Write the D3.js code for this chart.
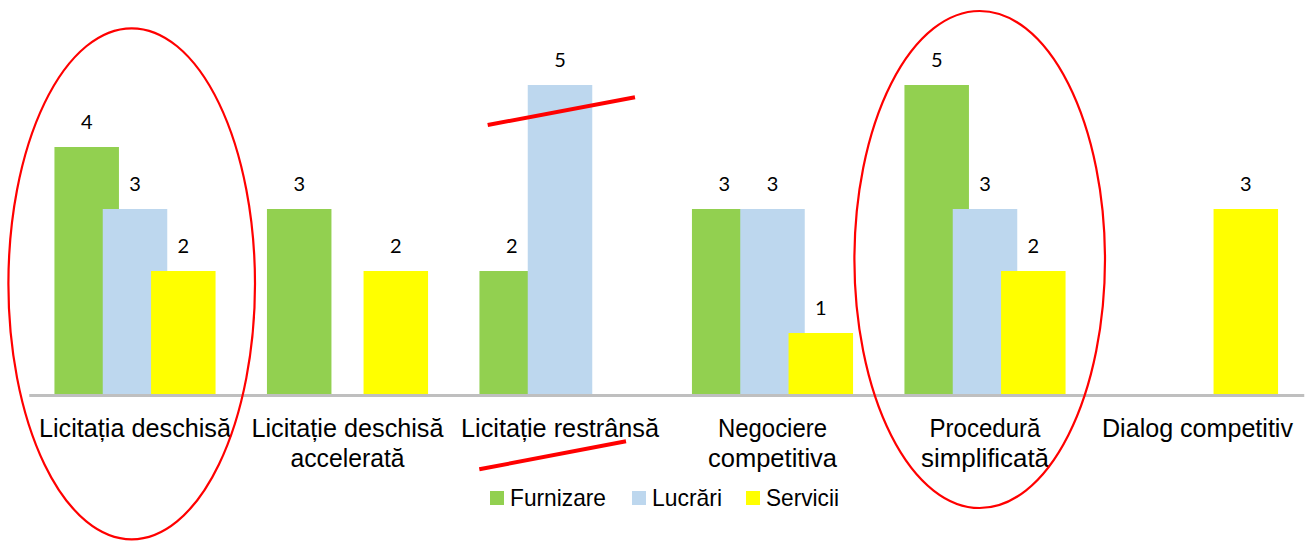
<!DOCTYPE html>
<html lang="ro">
  <head>
    <meta charset="UTF-8" />
    <title>Proceduri</title>
    <script src="https://cdn.jsdelivr.net/npm/d3@7"></script>
    <style>
      html,
      body {
        margin: 0;
        padding: 0;
        background: #fff;
      }
      svg {
        display: block;
      }
      .cat {
        font-family: 'Liberation Sans', Arial, sans-serif;
        font-size: 26px;
        fill: #000;
      }
      .val {
        font-family: Lato, 'Open Sans', sans-serif;
        font-size: 20px;
        fill: #000;
      }
      .leg {
        font-family: 'Liberation Sans', Arial, sans-serif;
        font-size: 24px;
        fill: #000;
      }
    </style>
  </head>
  <body>
    <svg width="1306" height="543"></svg>
    <script>
      // categories (label lines) and series values
      const categories = [
        'Licitația deschisă',
        'Licitație deschisă accelerată',
        'Licitație restrânsă',
        'Negociere competitiva',
        'Procedură simplificată',
        'Dialog competitiv',
      ];
      const categoryLines = [
        ['Licitația deschisă'],
        ['Licitație deschisă', 'accelerată'],
        ['Licitație restrânsă'],
        ['Negociere', 'competitiva'],
        ['Procedură', 'simplificată'],
        ['Dialog competitiv'],
      ];
      const seriesNames = ['Furnizare', 'Lucrări', 'Servicii'];
      const furnizare = [4, 3, 2, 3, 5, null];
      const lucrari = [3, null, 5, 3, 3, null];
      const servicii = [2, 2, null, 1, 2, 3];
      const colors = ['#92D050', '#BDD7EE', '#FFFF00'];

      const seriesValues = [furnizare, lucrari, servicii];

      const svg = d3.select('svg');
      const baseY = 395;

      const x = d3
        .scaleBand()
        .domain(categories)
        .range([28.75, 1303.75])
        .padding(0);

      const y = d3
        .scaleLinear()
        .domain([0, 5])
        .range([baseY, 85]);

      const barW = 64.5;
      const offset = d3
        .scalePoint()
        .domain(seriesNames)
        .range([-48.3, 48.3]);

      const bars = [];
      seriesNames.forEach(function(s, si) {
        seriesValues[si].forEach(function(v, ci) {
          if (v != null) bars.push({ series: s, si: si, cat: categories[ci], value: v });
        });
      });

      svg
        .append('g')
        .selectAll('rect')
        .data(bars)
        .enter()
        .append('rect')
        .attr('x', function(d) {
          return x(d.cat) + x.bandwidth() / 2 + offset(d.series) - barW / 2;
        })
        .attr('y', function(d) {
          return y(d.value);
        })
        .attr('width', barW)
        .attr('height', function(d) {
          return baseY - y(d.value);
        })
        .attr('fill', function(d) {
          return colors[d.si];
        });

      svg
        .append('g')
        .selectAll('text')
        .data(bars)
        .enter()
        .append('text')
        .attr('class', 'val')
        .attr('text-anchor', 'middle')
        .attr('x', function(d) {
          return x(d.cat) + x.bandwidth() / 2 + offset(d.series);
        })
        .attr('y', function(d) {
          return y(d.value) - 18.5;
        })
        .text(function(d) {
          return d.value;
        });

      // category axis
      const xAxis = d3
        .axisBottom(x)
        .tickSize(0)
        .tickFormat('');
      const axisG = svg
        .append('g')
        .attr('transform', 'translate(0,' + baseY + ')')
        .call(xAxis);
      axisG
        .select('path.domain')
        .attr('stroke', '#BFBFBF')
        .attr('stroke-width', 3);

      const labelWidths = [[192], [192, 114], [198], [109, 129], [111, 128], [191]];
      const catG = svg
        .append('g')
        .selectAll('g')
        .data(categories)
        .enter()
        .append('g');
      catG.each(function(c, ci) {
        const g = d3.select(this);
        categoryLines[ci].forEach(function(line, li) {
          g.append('text')
            .attr('class', 'cat')
            .attr('text-anchor', 'middle')
            .attr('x', x(c) + x.bandwidth() / 2)
            .attr('y', 436.5 + li * 30)
            .attr('textLength', labelWidths[ci][li])
            .attr('lengthAdjust', 'spacingAndGlyphs')
            .text(line);
        });
      });

      // legend
      const legendX = [490, 632, 746];
      const legendW = [96, 70, 73];
      const legend = svg
        .append('g')
        .selectAll('g')
        .data(seriesNames)
        .enter()
        .append('g')
        .attr('transform', function(d, i) {
          return 'translate(' + legendX[i] + ',491)';
        });
      legend
        .append('rect')
        .attr('width', 14)
        .attr('height', 14)
        .attr('fill', function(d, i) {
          return colors[i];
        });
      legend
        .append('text')
        .attr('class', 'leg')
        .attr('x', 20)
        .attr('y', 15)
        .attr('textLength', function(d, i) {
          return legendW[i];
        })
        .attr('lengthAdjust', 'spacingAndGlyphs')
        .text(function(d) {
          return d;
        });

      // red annotations
      const notes = svg.append('g').attr('fill', 'none').attr('stroke', '#FF0000');
      notes
        .append('ellipse')
        .attr('cx', 131.7)
        .attr('cy', 283.8)
        .attr('rx', 123.3)
        .attr('ry', 255.5)
        .attr('stroke-width', 2.2);
      notes
        .append('ellipse')
        .attr('cx', 979.7)
        .attr('cy', 259.5)
        .attr('rx', 125.3)
        .attr('ry', 248.5)
        .attr('stroke-width', 2.2);
      notes
        .append('line')
        .attr('x1', 487.7)
        .attr('y1', 125)
        .attr('x2', 635)
        .attr('y2', 97.3)
        .attr('stroke-width', 4);
      notes
        .append('line')
        .attr('x1', 479.3)
        .attr('y1', 469.3)
        .attr('x2', 626)
        .attr('y2', 441.3)
        .attr('stroke-width', 4);
    </script>
  </body>
</html>
